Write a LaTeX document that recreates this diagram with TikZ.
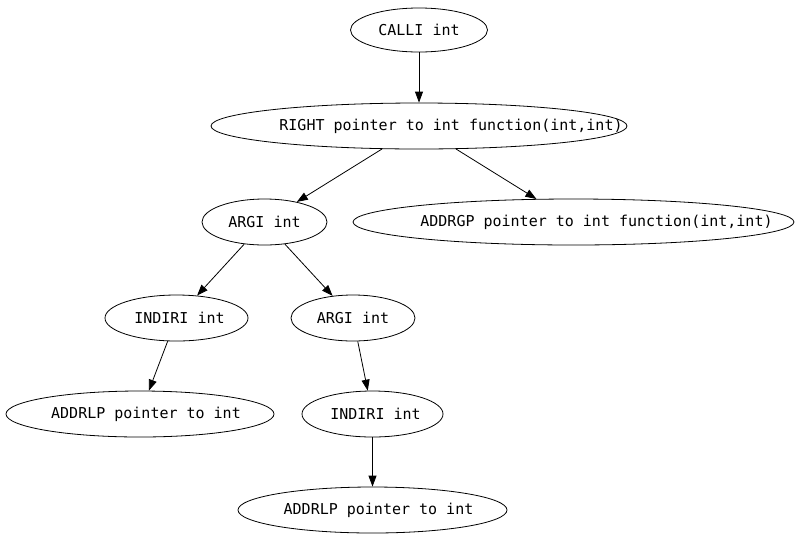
\documentclass[tikz,border=0pt]{standalone}
\usepackage{fontspec}
\usepackage{tikz}
\usetikzlibrary{shapes.geometric,arrows.meta}
\newfontfamily\treefont{DejaVu Sans Mono}

\tikzset{
  oval/.style={draw, ellipse, inner sep=0pt, minimum height=46pt, line width=0.8pt},
  edge/.style={line width=0.8pt, -{Triangle[length=11pt,width=8pt]}}
}

\begin{document}
\begin{tikzpicture}[x=1pt,y=-1pt,font=\treefont\fontsize{15}{18}\selectfont]

\useasboundingbox (0,0) rectangle (800,539);

\node[oval, minimum width=137pt, minimum height=44pt] (calli) at (419,30) {CALLI int};
\node[oval, minimum width=416pt, label={[xshift=32pt]center:RIGHT pointer to int function(int,int)}] (right) at (419,126) {};
\node[oval, minimum width=125pt] (argi) at (264.5,222) {ARGI int};
\node[oval, minimum width=441pt, label={[xshift=23pt]center:ADDRGP pointer to int function(int,int)}] (addrgp) at (573.5,222) {};
\node[oval, minimum width=143pt, label={[xshift=3pt]center:INDIRI int}] (indiri) at (176.5,318) {};
\node[oval, minimum width=124pt] (argib) at (353,318) {ARGI int};
\node[oval, minimum width=268pt, label={[xshift=6pt]center:ADDRLP pointer to int}] (addrlp) at (140,414) {};
\node[oval, minimum width=141pt, label={[xshift=3pt]center:INDIRI int}] (indirib) at (372.5,414) {};
\node[oval, minimum width=269pt, label={[xshift=6pt]center:ADDRLP pointer to int}] (addrlpb) at (372.5,510) {};

% tree edges
\draw[edge] (calli) -- (right);
\draw[edge] (right) -- (argi);
\draw[edge] (right) -- (addrgp);
\draw[edge] (argi) -- (indiri);
\draw[edge] (argi) -- (argib);
\draw[edge] (indiri) -- (addrlp);
\draw[edge] (argib) -- (indirib);
\draw[edge] (indirib) -- (addrlpb);

\end{tikzpicture}
\end{document}
